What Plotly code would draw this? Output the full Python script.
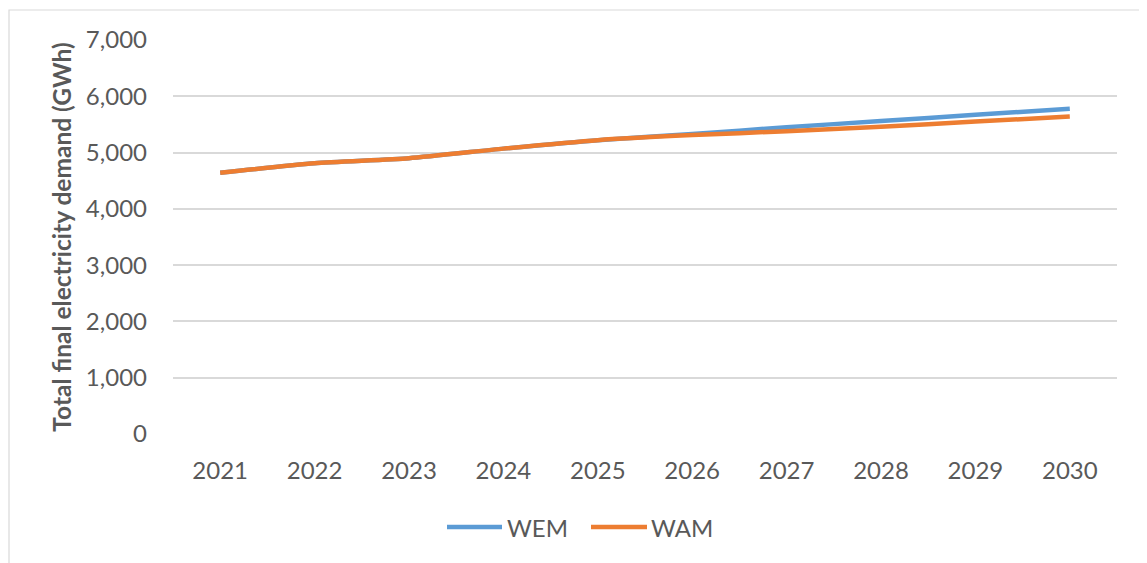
import plotly.graph_objects as go

years = ["2021", "2022", "2023", "2024", "2025", "2026", "2027", "2028", "2029", "2030"]
wem = [4640, 4810, 4900, 5070, 5220, 5330, 5450, 5560, 5670, 5780]
wam = [4640, 4810, 4900, 5070, 5220, 5310, 5380, 5460, 5550, 5640]
series_names = ["WEM", "WAM"]
series_colors = ["#5B9BD5", "#ED7D31"]
y_ticks = [0, 1000, 2000, 3000, 4000, 5000, 6000, 7000]
y_title = "Total final electricity demand (GWh)"

FONT = "Lato"
GREY = "#595959"

fig = go.Figure()
for name, vals, col in zip(series_names, [wem, wam], series_colors):
    fig.add_trace(go.Scatter(x=years, y=vals, name=name, mode="lines",
                             line=dict(color=col, width=4.5, shape="spline", smoothing=0.6),
                             showlegend=False))

OFF = 8  # page body margin
W, H = 1147 - OFF, 563 - OFF
L, R, T, B = 173 - OFF, 30, 40 - OFF, 129
pw, ph = W - L - R, H - T - B
def px(x): return (x - OFF - L) / pw
def py(y): return (H - B - (y - OFF)) / ph

shapes = [dict(type="rect", xref="paper", yref="paper",
               x0=px(9), x1=px(1145), y0=py(570), y1=py(10),
               line=dict(color="#D9D9D9", width=1.2), fillcolor="rgba(0,0,0,0)", layer="below")]
annotations = []
leg = [(447, 502, 505), (591, 647, 649)]
for (x0, x1, xt), name, col in zip(leg, series_names, series_colors):
    shapes.append(dict(type="line", xref="paper", yref="paper", x0=px(x0), x1=px(x1),
                       y0=py(527), y1=py(527), line=dict(color=col, width=4.5)))
    annotations.append(dict(xref="paper", yref="paper", x=px(xt), y=py(527), text=name,
                            showarrow=False, xanchor="left", yanchor="middle",
                            font=dict(family=FONT, size=24, color=GREY)))

fig.update_layout(
    width=W, height=H,
    margin=dict(l=L, r=R, t=T, b=B),
    paper_bgcolor="white", plot_bgcolor="white",
    font=dict(family=FONT, color=GREY, size=24),
    shapes=shapes, annotations=annotations,
    xaxis=dict(type="category", range=[-0.5, 9.5], showgrid=False, zeroline=False,
               showline=False, ticks="", ticklabelstandoff=20,
               tickfont=dict(family=FONT, size=24, color=GREY)),
    yaxis=dict(range=[0, 7000], tickvals=y_ticks, tickformat=",", showgrid=True,
               gridcolor="#D9D9D9", gridwidth=1.5, zeroline=False, showline=False,
               ticks="", ticklabelstandoff=25,
               tickfont=dict(family=FONT, size=24, color=GREY),
               title=dict(text="<b>" + y_title + "</b>", standoff=7,
                          font=dict(family=FONT, size=24.5, color=GREY))),
)

fig.write_html("out.html")
